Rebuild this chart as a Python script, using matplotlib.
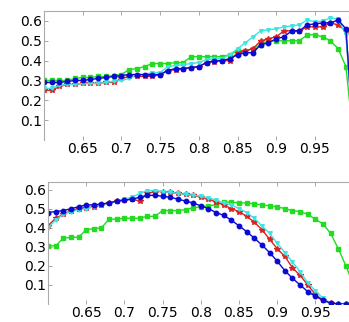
import numpy as np
import matplotlib
matplotlib.use("Agg")
import matplotlib.pyplot as plt

# threshold grid shared by both panels
x = np.round(np.arange(0.60, 1.001, 0.01), 2)

# top panel
top_blue = [0.29, 0.29, 0.29, 0.295, 0.30, 0.30, 0.305, 0.31, 0.315, 0.32,
            0.325, 0.33, 0.33, 0.33, 0.33, 0.33, 0.35, 0.36, 0.36, 0.365,
            0.37, 0.39, 0.40, 0.40, 0.41, 0.43, 0.44, 0.44, 0.48, 0.49,
            0.51, 0.52, 0.55, 0.55, 0.58, 0.585, 0.59, 0.59, 0.605, 0.56,
            0.0]
top_red = [0.25, 0.25, 0.27, 0.28, 0.28, 0.285, 0.285, 0.285, 0.29, 0.29,
           0.31, 0.32, 0.32, 0.32, 0.32, 0.33, 0.35, 0.355, 0.36, 0.365,
           0.37, 0.39, 0.395, 0.40, 0.40, 0.44, 0.45, 0.46, 0.50, 0.51,
           0.52, 0.55, 0.55, 0.55, 0.57, 0.57, 0.57, 0.59, 0.58, 0.55,
           0.0]
top_cyan = [0.26, 0.26, 0.275, 0.28, 0.28, 0.285, 0.285, 0.285, 0.29, 0.295,
            0.30, 0.31, 0.33, 0.33, 0.34, 0.34, 0.37, 0.375, 0.38, 0.385,
            0.39, 0.405, 0.41, 0.41, 0.43, 0.46, 0.49, 0.52, 0.55, 0.555,
            0.56, 0.57, 0.575, 0.58, 0.605, 0.595, 0.60, 0.615, 0.61, 0.53,
            0.0]
top_green = [0.30, 0.30, 0.30, 0.30, 0.31, 0.315, 0.315, 0.32, 0.32, 0.325,
             0.33, 0.355, 0.36, 0.37, 0.385, 0.385, 0.385, 0.39, 0.39, 0.42,
             0.42, 0.42, 0.42, 0.42, 0.43, 0.45, 0.45, 0.46, 0.48, 0.50,
             0.50, 0.50, 0.50, 0.50, 0.53, 0.53, 0.52, 0.50, 0.46, 0.37,
             0.0]

# bottom panel
bot_blue = [0.48, 0.485, 0.49, 0.50, 0.51, 0.52, 0.52, 0.525, 0.53, 0.54,
            0.545, 0.55, 0.56, 0.57, 0.57, 0.565, 0.56, 0.55, 0.54, 0.53,
            0.515, 0.50, 0.48, 0.465, 0.44, 0.41, 0.38, 0.345, 0.31, 0.27,
            0.225, 0.175, 0.135, 0.10, 0.065, 0.04, 0.02, 0.005, 0.0, 0.0,
            0.0]
bot_red = [0.41, 0.45, 0.47, 0.49, 0.50, 0.505, 0.51, 0.52, 0.53, 0.54,
           0.545, 0.55, 0.54, 0.58, 0.59, 0.59, 0.585, 0.58, 0.575, 0.57,
           0.56, 0.55, 0.535, 0.52, 0.50, 0.485, 0.46, 0.43, 0.39, 0.34,
           0.29, 0.25, 0.19, 0.15, 0.10, 0.05, 0.02, 0.005, 0.0, 0.0,
           0.0]
bot_cyan = [0.40, 0.44, 0.47, 0.485, 0.495, 0.50, 0.51, 0.52, 0.53, 0.54,
            0.55, 0.56, 0.58, 0.595, 0.595, 0.59, 0.585, 0.58, 0.575, 0.57,
            0.565, 0.555, 0.545, 0.53, 0.52, 0.50, 0.48, 0.45, 0.41, 0.37,
            0.32, 0.27, 0.22, 0.17, 0.11, 0.07, 0.03, 0.005, 0.0, 0.0,
            0.0]
bot_green = [0.305, 0.305, 0.345, 0.35, 0.35, 0.39, 0.395, 0.40, 0.445, 0.445,
             0.45, 0.45, 0.45, 0.46, 0.46, 0.49, 0.49, 0.49, 0.495, 0.505,
             0.51, 0.515, 0.52, 0.535, 0.535, 0.53, 0.53, 0.525, 0.52, 0.515,
             0.51, 0.50, 0.49, 0.485, 0.47, 0.445, 0.42, 0.37, 0.29, 0.20,
             0.10]

xticks = [0.65, 0.70, 0.75, 0.80, 0.85, 0.90, 0.95]
xtick_labels = ["0.65", "0.7", "0.75", "0.8", "0.85", "0.9", "0.95"]
yticks = [0.1, 0.2, 0.3, 0.4, 0.5, 0.6]
ytick_labels = ["0.1", "0.2", "0.3", "0.4", "0.5", "0.6"]

BLUE = "#0a0ad2"
RED = "#dc2222"
CYAN = "#3ce4e4"
GREEN = "#22dc22"

plt.rcParams["font.family"] = "DejaVu Sans"

W, H = 349, 322
fig = plt.figure(figsize=(W / 100, H / 100), dpi=100)
ax_top = fig.add_axes([44 / W, (H - 140) / H, (W - 44) / W, 129 / H])
ax_bot = fig.add_axes([48 / W, (H - 304) / H, (W - 48) / W, 122 / H])


def draw(ax, blue, red, cyan, green, ymax):
    ax.plot(x, green, color=GREEN, lw=1.0, marker="s", ms=3.0, mec=GREEN)
    ax.plot(x, red, color=RED, lw=1.0, marker="*", ms=3.8, mec=RED)
    ax.plot(x, cyan, color=CYAN, lw=1.0, marker="v", ms=2.6, mec=CYAN)
    ax.plot(x, blue, color=BLUE, lw=1.0, marker="o", ms=3.2, mec=BLUE)
    ax.set_xlim(0.60, 0.994)
    ax.set_ylim(0.0, ymax)
    ax.set_xticks(xticks)
    ax.set_xticklabels(xtick_labels)
    ax.set_yticks(yticks)
    ax.set_yticklabels(ytick_labels)
    ax.tick_params(direction="in", length=3, width=0.6, color="#999999",
                   labelsize=10, pad=1.5, top=True, right=False)
    for side in ("bottom", "right"):
        ax.spines[side].set_visible(False)
    for side in ("left", "top"):
        ax.spines[side].set_color("#aaaaaa")
        ax.spines[side].set_linewidth(0.8)


draw(ax_top, top_blue, top_red, top_cyan, top_green, 0.65)
draw(ax_bot, bot_blue, bot_red, bot_cyan, bot_green, 0.64)

fig.savefig("out.png", dpi=100)
